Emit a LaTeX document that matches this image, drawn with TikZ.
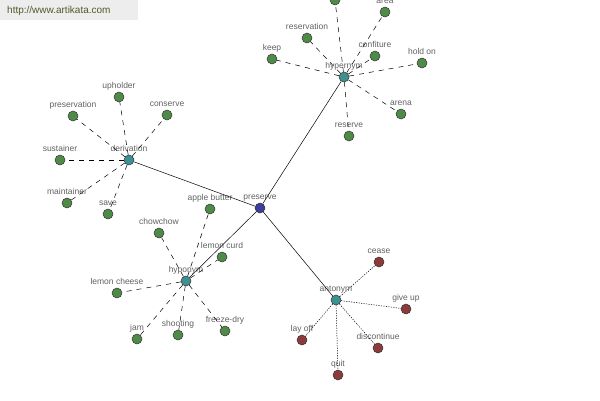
\documentclass[tikz,border=0pt]{standalone}
\usepackage{fontspec}
\setmainfont{Liberation Sans}
\usepackage{xcolor}
\usetikzlibrary{arrows}
\definecolor{leafgreen}{HTML}{4E8B48}
\definecolor{hubteal}{HTML}{3E9190}
\definecolor{rootblue}{HTML}{3D3D9A}
\definecolor{antired}{HTML}{8C3A3C}
\definecolor{marktext}{HTML}{4F5B2A}

\begin{document}
\begin{tikzpicture}[x=1pt,y=-1pt,
		word/.style={circle,draw=black!80,line width=0.5pt,inner sep=0pt,minimum size=10pt},
		wlabel/.style={font=\fontsize{8.5}{9}\selectfont,text=black!62,inner sep=1pt,text height=6pt,text depth=2pt,label distance=0pt},
		syn/.style={word,fill=leafgreen},
		ant/.style={word,fill=antired},
		hub/.style={word,fill=hubteal},
		root/.style={word,fill=rootblue}]
		\useasboundingbox (0,0) rectangle (600,400);
		\clip (0,0) rectangle (600,400);
		% watermark
		\fill[black!7] (0,0) rectangle (138,20);
		\node[anchor=west,text=marktext,font=\fontsize{10}{11}\selectfont,inner sep=0pt] (mark) at (7,11) {http://www.artikata.com};
		%
		\node[root,label={[wlabel]above:preserve}] (P) at (260,208) {};
		\node[hub,label={[wlabel]above:hypernym}] (H) at (344,77) {};
		\node[hub,label={[wlabel]above:derivation}] (D) at (129,160) {};
		\node[hub,label={[wlabel]above:hyponym}] (Y) at (186,281) {};
		\node[hub,label={[wlabel]above:antonym}] (A) at (336,300) {};
		% hypernym words
		\node[syn] (H1) at (335,0) {};
		\node[syn,label={[wlabel]above:area}] (H2) at (385,12) {};
		\node[syn,label={[wlabel]above:reservation}] (H3) at (307,38) {};
		\node[syn,label={[wlabel]above:keep}] (H4) at (272,59) {};
		\node[syn,label={[wlabel]above:confiture}] (H5) at (375,56) {};
		\node[syn,label={[wlabel]above:hold on}] (H6) at (422,63) {};
		\node[syn,label={[wlabel]above:arena}] (H7) at (401,114) {};
		\node[syn,label={[wlabel]above:reserve}] (H8) at (349,136) {};
		% derivation words
		\node[syn,label={[wlabel]above:upholder}] (D1) at (119,97) {};
		\node[syn,label={[wlabel]above:preservation}] (D2) at (73,116) {};
		\node[syn,label={[wlabel]above:conserve}] (D3) at (167,115) {};
		\node[syn,label={[wlabel]above:sustainer}] (D4) at (60,160) {};
		\node[syn,label={[wlabel]above:maintainer}] (D5) at (67,203) {};
		\node[syn,label={[wlabel]above:save}] (D6) at (108,214) {};
		% hyponym words
		\node[syn,label={[wlabel]above:apple butter}] (Y1) at (210,209) {};
		\node[syn,label={[wlabel]above:chowchow}] (Y2) at (159,233) {};
		\node[syn,label={[wlabel]above:lemon curd}] (Y3) at (222,257) {};
		\node[syn,label={[wlabel]above:lemon cheese}] (Y4) at (117,293) {};
		\node[syn,label={[wlabel]above:jam}] (Y5) at (137,339) {};
		\node[syn,label={[wlabel]above:shooting}] (Y6) at (178,335) {};
		\node[syn,label={[wlabel]above:freeze-dry}] (Y7) at (225,331) {};
		% antonym words
		\node[ant,label={[wlabel]above:cease}] (A1) at (379,262) {};
		\node[ant,label={[wlabel]above:give up}] (A2) at (406,309) {};
		\node[ant,label={[wlabel]above:lay off}] (A3) at (302,340) {};
		\node[ant,label={[wlabel]above:discontinue}] (A4) at (378,348) {};
		\node[ant,label={[wlabel]above:quit}] (A5) at (338,375) {};
		%
		\path[line width=0.5pt]
		% relation links
		(P) edge (H)
		(P) edge (D)
		(P) edge (Y)
		(P) edge (A);
		\path[line width=0.5pt,dash pattern=on 5pt off 5pt]
		% hypernym links
		(H) edge (H1)
		(H) edge (H2)
		(H) edge (H3)
		(H) edge (H4)
		(H) edge (H5)
		(H) edge (H6)
		(H) edge (H7)
		(H) edge (H8)
		% derivation links
		(D) edge (D1)
		(D) edge (D2)
		(D) edge (D3)
		(D) edge (D4)
		(D) edge (D5)
		(D) edge (D6)
		% hyponym links
		(Y) edge (Y1)
		(Y) edge (Y2)
		(Y) edge (Y3)
		(Y) edge (Y4)
		(Y) edge (Y5)
		(Y) edge (Y6)
		(Y) edge (Y7);
		\path[line width=0.5pt,dash pattern=on 1.2pt off 1.3pt]
		% antonym links
		(A) edge (A1)
		(A) edge (A2)
		(A) edge (A3)
		(A) edge (A4)
		(A) edge (A5);
	\end{tikzpicture}
\end{document}
